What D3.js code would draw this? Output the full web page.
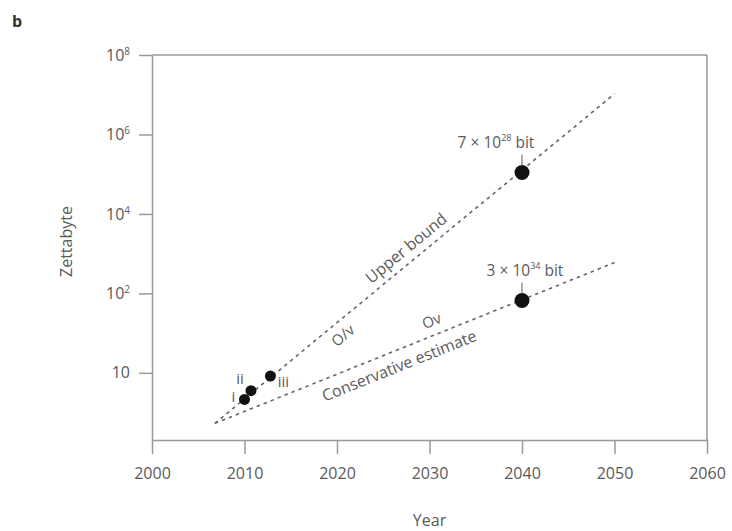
<!DOCTYPE html>
<html>
<head>
<meta charset="utf-8" />
<title>Zettabyte</title>
<style>
    body { margin: 0; background: #fff; }
    text { font-family: "Open Sans", "Liberation Sans", sans-serif; fill: #5a5a5a; }
</style>
</head>
<body>
<div id="container"></div>
<script src="https://cdn.jsdelivr.net/npm/d3@7"></script>
<script>
    // ticks
    const xTicks = [2000, 2010, 2020, 2030, 2040, 2050, 2060]
    const yTicks = [1, 1e2, 1e4, 1e6, 1e8]
    const yTickBase = ['10', '10', '10', '10', '10']
    const yTickSup = ['', '2', '4', '6', '8']

    // dashed trend lines (start, end)
    const upperYears = [2006.8, 2050]
    const upperValues = [0.0537, 1.05e7]
    const consYears = [2006.8, 2050]
    const consValues = [0.0537, 596]

    // data points
    const pointYears = [2010, 2010.7, 2012.8, 2040, 2040]
    const pointValues = [0.214, 0.355, 0.83, 1.1e5, 66]
    const pointNames = ['i', 'ii', 'iii', '', '']

    const margin = { top: 55, right: 25, bottom: 91, left: 152 }
    const width = 732 - margin.left - margin.right
    const height = 531 - margin.top - margin.bottom

    let svg = d3.select('#container').append('svg').attr('width', 732).attr('height', 531)
    let chart = svg.append('g').attr('transform', `translate(${margin.left},${margin.top})`)

    let xScale = d3.scaleLinear().domain([2000, 2060]).range([0, width])
    let yScale = d3.scaleLog().domain([Math.pow(10, -1.69), 1e8]).range([height, 0])

    // frame (top and right)
    chart.append('line').attr('x1', 0).attr('x2', width).attr('y1', 0).attr('y2', 0)
        .attr('stroke', '#999').attr('stroke-width', 1.5)
    chart.append('line').attr('x1', width).attr('x2', width).attr('y1', 0).attr('y2', height)
        .attr('stroke', '#999').attr('stroke-width', 1.5)

    let xAxis = d3.axisBottom(xScale).tickValues(xTicks).tickFormat(d3.format('d'))
        .tickSize(14).tickSizeOuter(0).tickPadding(14)
    let gx = chart.append('g').attr('transform', `translate(0,${height})`).call(xAxis)

    let yAxis = d3.axisLeft(yScale).tickValues(yTicks).tickFormat(() => '')
        .tickSize(13).tickSizeOuter(0).tickPadding(9)
    let gy = chart.append('g').call(yAxis)

    gy.selectAll('.tick text').each(function (d, i) {
        let t = d3.select(this)
        t.append('tspan').text(yTickBase[i])
        if (yTickSup[i]) {
            t.append('tspan').attr('font-size', 10).attr('dy', '-0.6em').text(yTickSup[i])
        }
    })

    ;[gx, gy].forEach(g => {
        g.select('.domain').attr('stroke', '#999').attr('stroke-width', 1.5)
        g.selectAll('.tick line').attr('stroke', '#999').attr('stroke-width', 1.5)
        g.selectAll('.tick text').attr('font-size', 16).style('fill', '#5a5a5a')
            .attr('font-family', '"Open Sans", sans-serif')
    })

    // axis titles
    chart.append('text').attr('x', width / 2).attr('y', 471).attr('text-anchor', 'middle')
        .attr('font-size', 16).text('Year')
    chart.append('text').attr('transform', `translate(-86,${height / 2 - 6}) rotate(-90)`)
        .attr('text-anchor', 'middle').attr('dy', '0.35em').attr('font-size', 16).text('Zettabyte')
    svg.append('text').attr('x', 12).attr('y', 27).attr('font-size', 16)
        .attr('font-weight', 'bold').style('fill', '#333').text('b')

    // trend lines
    const lines = [
        upperYears.map((yr, i) => ({ year: yr, value: upperValues[i] })),
        consYears.map((yr, i) => ({ year: yr, value: consValues[i] }))
    ]
    let lineGen = d3.line().x(d => xScale(d.year)).y(d => yScale(d.value))
    chart.selectAll('.trend').data(lines).enter().append('path')
        .attr('class', 'trend').attr('d', lineGen).attr('fill', 'none')
        .attr('stroke', '#666').attr('stroke-width', 1.6).attr('stroke-dasharray', '3.5,4')

    // label placed along a trend line
    function alongLine(line, year, dy, txt, size) {
        let x0 = xScale(line[0].year), y0 = yScale(line[0].value)
        let x1 = xScale(line[1].year), y1 = yScale(line[1].value)
        let px = xScale(year)
        let py = y0 + (px - x0) / (x1 - x0) * (y1 - y0)
        let ang = Math.atan2(y1 - y0, x1 - x0) * 180 / Math.PI
        chart.append('text').attr('transform', `translate(${px},${py}) rotate(${ang})`)
            .attr('text-anchor', 'middle').attr('dy', dy).attr('font-size', size).text(txt)
    }
    alongLine(lines[0], 2028.4, -8, 'Upper bound', 16)
    alongLine(lines[1], 2026.1, 21, 'Conservative estimate', 16)
    alongLine(lines[0], 2019.7, 19, 'O/v', 15)
    alongLine(lines[1], 2030.8, -9, 'Ov', 15)

    // points
    const points = pointYears.map((yr, i) => ({ year: yr, value: pointValues[i], name: pointNames[i] }))
    chart.selectAll('.pt').data(points).enter().append('circle')
        .attr('class', 'pt')
        .attr('cx', d => xScale(d.year)).attr('cy', d => yScale(d.value))
        .attr('r', d => d.year >= 2040 ? 7.5 : 5.5).attr('fill', '#111')

    // roman numerals next to the early points
    const nameOffset = { i: [-11, 3], ii: [-11, -7], iii: [13, 11] }
    chart.selectAll('.pname').data(points.filter(d => d.name)).enter().append('text')
        .attr('x', d => xScale(d.year) + nameOffset[d.name][0])
        .attr('y', d => yScale(d.value) + nameOffset[d.name][1])
        .attr('text-anchor', 'middle').attr('font-size', 15).text(d => d.name)

    // bit annotations for the 2040 points
    const bitBase = ['7 × 10', '3 × 10']
    const bitSup = ['28', '34']
    points.filter(d => d.year >= 2040).forEach((d, i) => {
        let cx = xScale(d.year), cy = yScale(d.value)
        chart.append('line').attr('x1', cx).attr('x2', cx).attr('y1', cy - 7).attr('y2', cy - 18)
            .attr('stroke', '#777').attr('stroke-width', 1.2)
        let t = chart.append('text').attr('x', cx + (i === 0 ? -26 : 3)).attr('y', cy - 25)
            .attr('text-anchor', 'middle').attr('font-size', 15.5)
        t.append('tspan').text(bitBase[i])
        t.append('tspan').attr('font-size', 9).attr('dy', '-0.7em').text(bitSup[i])
        t.append('tspan').attr('dy', '0.45em').text(' bit')
    })
</script>
</body>
</html>
